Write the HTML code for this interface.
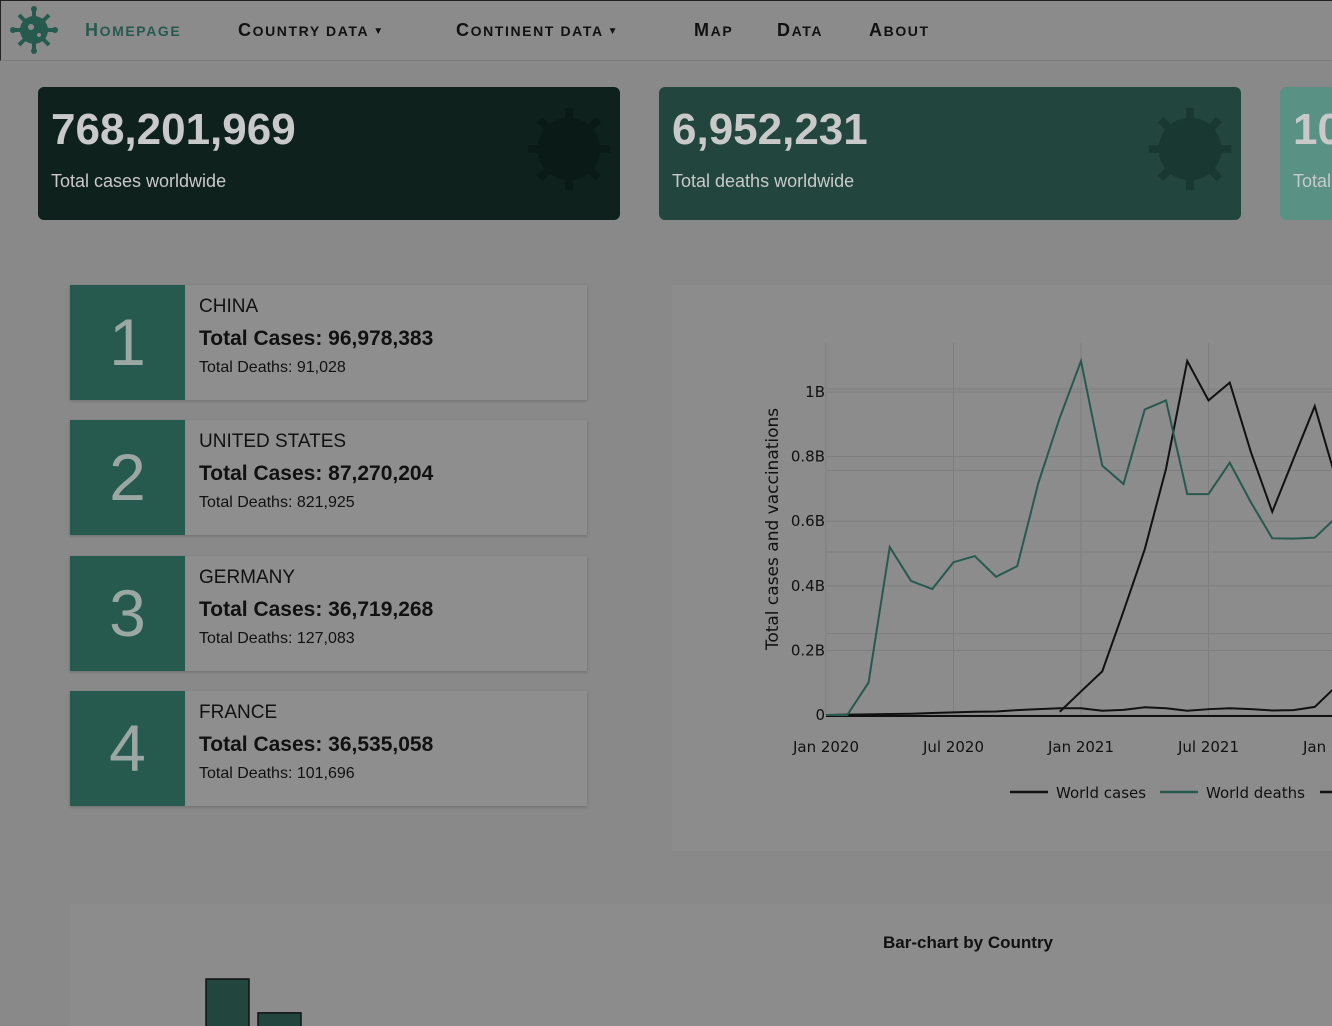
<!DOCTYPE html>
<html><head><meta charset="utf-8">
<style>
*{box-sizing:border-box;margin:0;padding:0}
body{width:1332px;height:1026px;overflow:hidden;background:#898989;font-family:"Liberation Sans",sans-serif;position:relative}
.nav{position:absolute;left:0;top:0;width:1332px;height:61px;background:#8b8b8b;border-bottom:1px solid #7d7d7d;border-top:1px solid #222;border-left:1px solid #222}
.nav a{position:absolute;top:19px;text-transform:uppercase;font-weight:bold;font-size:14px;letter-spacing:1.6px;color:#111;text-decoration:none;white-space:nowrap}
.nav a::first-letter{font-size:18px}
.nav a .car{font-size:10px;letter-spacing:0;margin-left:4px;vertical-align:2px}
.card{position:absolute;top:87px;width:582px;height:133px;border-radius:6px;color:#c9c9c9;overflow:hidden}
.card .num{position:absolute;left:13px;top:18px;font-size:44px;font-weight:bold}
.card .lbl{position:absolute;left:13px;top:84px;font-size:18px}
.rank{position:absolute;left:70px;width:517px;height:115px;background:#8e8e8e;box-shadow:0 1px 3px rgba(0,0,0,.2)}
.rank .sq{position:absolute;left:0;top:0;width:115px;height:115px;background:#275a4e;color:#9aa7a3;font-size:66px;text-align:center;line-height:115px}
.rank .c{position:absolute;left:129px;top:11px;font-size:19px;color:#111}
.rank .t{position:absolute;left:129px;top:42px;font-size:21px;font-weight:bold;color:#111}
.rank .d{position:absolute;left:129px;top:74px;font-size:16px;color:#111}
</style></head><body>
<div class="nav">
<svg style="position:absolute;left:9px;top:5px" width="48" height="48" viewBox="-24 -24 48 48"><g fill="#275a4e"><circle r="14"/><g stroke="#275a4e" stroke-width="4"><line x1="0" y1="-21" x2="0" y2="21"/><line x1="-21" y1="0" x2="21" y2="0"/><line x1="-15" y1="-15" x2="15" y2="15"/><line x1="15" y1="-15" x2="-15" y2="15"/></g><circle cx="0" cy="-21" r="3"/><circle cx="0" cy="21" r="3"/><circle cx="-21" cy="0" r="3"/><circle cx="21" cy="0" r="3"/></g><circle cx="-3" cy="-3" r="3" fill="#8b8b8b"/><circle cx="5" cy="5" r="2" fill="#8b8b8b"/></svg>
<a style="left:84px;color:#275a4e">Homepage</a>
<a style="left:237px">Country data<span class="car">▼</span></a>
<a style="left:455px">Continent data<span class="car">▼</span></a>
<a style="left:693px">Map</a>
<a style="left:776px">Data</a>
<a style="left:868px">About</a>
</div>
<div class="card" style="left:38px;background:#0e211d"><div class="num">768,201,969</div><div class="lbl">Total cases worldwide</div>
<svg style="position:absolute;left:484px;top:15px" width="94" height="94" viewBox="-24 -24 48 48"><g fill="#0a1a17" stroke="#0a1a17" stroke-width="4"><circle r="14"/><line x1="0" y1="-21" x2="0" y2="21"/><line x1="-21" y1="0" x2="21" y2="0"/><line x1="-15" y1="-15" x2="15" y2="15"/><line x1="15" y1="-15" x2="-15" y2="15"/></g></svg></div>
<div class="card" style="left:659px;background:#22463e"><div class="num">6,952,231</div><div class="lbl">Total deaths worldwide</div>
<svg style="position:absolute;left:484px;top:15px" width="94" height="94" viewBox="-24 -24 48 48"><g fill="#1a3832" stroke="#1a3832" stroke-width="4"><circle r="14"/><line x1="0" y1="-21" x2="0" y2="21"/><line x1="-21" y1="0" x2="21" y2="0"/><line x1="-15" y1="-15" x2="15" y2="15"/><line x1="15" y1="-15" x2="-15" y2="15"/></g></svg></div>
<div class="card" style="left:1280px;width:52px;border-radius:6px 0 0 6px;background:#5a9185"><div class="num">10</div><div class="lbl">Total</div></div>

<div class="rank" style="top:285px"><div class="sq">1</div><div class="c">CHINA</div><div class="t">Total Cases: 96,978,383</div><div class="d">Total Deaths: 91,028</div></div>
<div class="rank" style="top:420px"><div class="sq">2</div><div class="c">UNITED STATES</div><div class="t">Total Cases: 87,270,204</div><div class="d">Total Deaths: 821,925</div></div>
<div class="rank" style="top:556px"><div class="sq">3</div><div class="c">GERMANY</div><div class="t">Total Cases: 36,719,268</div><div class="d">Total Deaths: 127,083</div></div>
<div class="rank" style="top:691px"><div class="sq">4</div><div class="c">FRANCE</div><div class="t">Total Cases: 36,535,058</div><div class="d">Total Deaths: 101,696</div></div>

<div style="position:absolute;left:672px;top:285px;width:660px;height:566px;background:#8c8c8c">
<svg id="lc" width="660" height="566" style="position:absolute;left:0;top:0"></svg></div>

<div style="position:absolute;left:70px;top:904px;width:1262px;height:122px;background:#8c8c8c;overflow:hidden">
<div style="position:absolute;left:0;width:1796px;top:29px;text-align:center;font-weight:bold;font-size:17px;color:#111">Bar-chart by Country</div>
<svg id="bc" width="1262" height="122" style="position:absolute;left:0;top:0"></svg></div>

<script>
const months=["2020-01","2020-02","2020-03","2020-04","2020-05","2020-06","2020-07","2020-08","2020-09","2020-10","2020-11","2020-12","2021-01","2021-02","2021-03","2021-04","2021-05","2021-06","2021-07","2021-08","2021-09","2021-10","2021-11","2021-12","2022-01","2022-02"];
const deaths=[0,0,0.10,0.52,0.415,0.39,0.473,0.492,0.428,0.461,0.72,0.92,1.096,0.772,0.715,0.946,0.974,0.684,0.684,0.781,0.658,0.547,0.546,0.549,0.611,0.60];
const cases=[0,0.001,0.002,0.003,0.004,0.006,0.008,0.01,0.011,0.015,0.018,0.021,0.021,0.013,0.016,0.024,0.021,0.013,0.018,0.021,0.018,0.014,0.015,0.025,0.088,0.15];
const vaccStart=11;
const vacc=[0.010,0.073,0.135,0.321,0.513,0.762,1.096,0.974,1.029,0.813,0.629,0.793,0.956,0.73,0.65];
const yTicks=[0,0.2,0.4,0.6,0.8,1];
const yTickLabels=["0","0.2B","0.4B","0.6B","0.8B","1B"];
const xTicks=[0,6,12,18,24];
const xTickLabels=["Jan 2020","Jul 2020","Jan 2021","Jul 2021","Jan 2022"];
const barValues=[96978383,87270204];
const barMin=83500000;
const NS="http://www.w3.org/2000/svg";
function mk(p,t,a){const e=document.createElementNS(NS,t);for(const k in a)e.setAttribute(k,a[k]);p.appendChild(e);return e;}
const svg=document.getElementById('lc');
const X=i=>154+i*(127.5/6), Y=v=>430-v*323;
for(let i=0;i<5;i++){const l=mk(svg,'line',{x1:154,x2:660,y1:430-i*81.5,y2:430-i*81.5,stroke:'#7e7e7e','stroke-width':1});}
yTicks.forEach((v,i)=>{const l=mk(svg,'line',{x1:154,x2:660,y1:Y(v),y2:Y(v),stroke:'#7e7e7e'});
const t=mk(svg,'text',{x:153,y:Y(v)+5,'text-anchor':'end','font-size':15,fill:'#111','font-family':'DejaVu Sans'});t.textContent=yTickLabels[i];});
xTicks.forEach((m,i)=>{const l=mk(svg,'line',{x1:X(m),x2:X(m),y1:58,y2:430,stroke:'#7e7e7e'});
const t=mk(svg,'text',{x:X(m),y:467,'text-anchor':'middle','font-size':15,fill:'#111','font-family':'DejaVu Sans'});t.textContent=xTickLabels[i];});
const yt=mk(svg,'text',{x:0,y:0,transform:'translate(106,244) rotate(-90)','text-anchor':'middle','font-size':17,fill:'#111','font-family':'DejaVu Sans'});yt.textContent='Total cases and vaccinations';
function line(vals,off,col,name){const p=mk(svg,'polyline',{points:vals.map((v,i)=>X(i+off)+','+Y(v)).join(' '),fill:'none',stroke:col,'stroke-width':2});}
const z=mk(svg,'line',{x1:154,x2:660,y1:Y(0)+1,y2:Y(0)+1,stroke:'#111','stroke-width':2});
line(cases,0,'#111','world-cases-line');
line(vacc,vaccStart,'#111','world-vaccinations-line');
line(deaths,0,'#275a4e','world-deaths-line');
[[338,'#111','World cases','legend-world-cases'],[488,'#275a4e','World deaths','legend-world-deaths'],[648,'#111','','legend-third']].forEach(l=>{const g=mk(svg,'g',{});
mk(g,'line',{x1:l[0],x2:l[0]+38,y1:507,y2:507,stroke:l[1],'stroke-width':2.5});const t=mk(g,'text',{x:l[0]+46,y:513,'font-size':15,fill:'#111','font-family':'DejaVu Sans'});t.textContent=l[2];});
const bc=document.getElementById('bc');
const BY=v=>122-(v-barMin)/(barValues[0]-barMin)*47;
barValues.forEach((v,i)=>{const r=mk(bc,'rect',{x:136+i*52,y:BY(v),width:43,height:122-BY(v)+2,fill:'#22463e',stroke:'#111','stroke-width':1.5});});
</script>
</body></html>
